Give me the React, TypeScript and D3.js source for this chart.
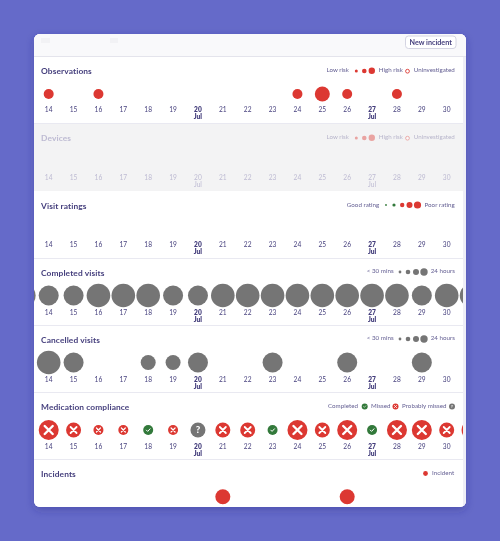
import React from "react";
import * as d3 from "d3";

const days = [14, 15, 16, 17, 18, 19, 20, 21, 22, 23, 24, 25, 26, 27, 28, 29, 30];
const boldDays = [20, 27];
const observations: [number, number][] = [[14, 1], [16, 1], [24, 1], [25, 2], [26, 1], [28, 1]];
const completedVisits: [number, number][] = [[13, 4], [14, 3], [15, 3], [16, 4], [17, 4], [18, 4], [19, 3], [20, 3], [21, 4], [22, 4], [23, 4], [24, 4], [25, 4], [26, 4], [27, 4], [28, 4], [29, 3], [30, 4], [31, 4]];
const cancelledVisits: [number, number][] = [[14, 4], [15, 3], [18, 2], [19, 2], [20, 3], [23, 3], [26, 3], [29, 3]];
const medication: [number, number, string][] = [
  [14, 3, "missed"], [15, 2, "missed"], [16, 1, "missed"], [17, 1, "missed"], [18, 1, "done"], [19, 1, "missed"],
  [20, 2, "unknown"], [21, 2, "missed"], [22, 2, "missed"], [23, 1, "done"], [24, 3, "missed"], [25, 2, "missed"],
  [26, 3, "missed"], [27, 1, "done"], [28, 3, "missed"], [29, 3, "missed"], [30, 2, "missed"], [31, 3, "missed"],
];
const incidents: [number, number][] = [[21, 2], [26, 2]];

const sectionTitles = ["Observations", "Devices", "Visit ratings", "Completed visits", "Cancelled visits", "Medication compliance", "Incidents"];
const sectionTops = [56, 124, 191, 259, 326, 393, 460];
const titleBaselines = [74.3, 141.2, 208.9, 275.6, 343.2, 410.2, 477];

const FONT = "Lato, 'Open Sans', sans-serif";
const INK = "#443e7c";
const RED = "#dc3730";
const GREY = "#757575";
const GREEN = "#33793a";

const x = d3.scaleLinear().domain([14, 30]).range([48.7, 446.7]);
const r = d3.scaleOrdinal<number, number>().domain([1, 2, 3, 4]).range([5, 7.5, 10, 11.8]);

function Ticks({ top, muted }: { top: number; muted?: boolean }) {
  const fill = muted ? "#bdbad2" : INK;
  return (
    <g fontFamily={FONT} fontSize={6.6} fill={fill} textAnchor="middle">
      {days.map((d) => {
        const bold = boldDays.includes(d);
        return (
          <g key={d} fontWeight={bold ? (muted ? 400 : 800) : 400}>
            <text x={x(d)} y={top + 55.7}>{d}</text>
            {bold && <text x={x(d)} y={top + 63}>Jul</text>}
          </g>
        );
      })}
    </g>
  );
}

function LegendText({ x: px, y, anchor = "start", children }: any) {
  return (
    <text x={px} y={y} textAnchor={anchor} fontFamily={FONT} fontSize={6.2} fill={INK} fillOpacity={0.85} letterSpacing={0.03}>
      {children}
    </text>
  );
}

function Icon({ cx, cy, radius, kind }: { cx: number; cy: number; radius: number; kind: string }) {
  const fill = kind === "missed" ? RED : kind === "done" ? GREEN : GREY;
  const a = radius * 0.4;
  const sw = radius * 0.24;
  return (
    <g>
      <circle cx={cx} cy={cy} r={radius} fill={fill} />
      {kind === "missed" && (
        <path d={`M${cx - a},${cy - a}L${cx + a},${cy + a}M${cx + a},${cy - a}L${cx - a},${cy + a}`} stroke="#fff" strokeWidth={sw} strokeLinecap="round" fill="none" />
      )}
      {kind === "done" && (
        <path d={`M${cx - radius * 0.36},${cy + radius * 0.02}L${cx - radius * 0.1},${cy + radius * 0.28}L${cx + radius * 0.38},${cy - radius * 0.24}`} stroke="#fff" strokeWidth={radius * 0.2} strokeLinecap="round" strokeLinejoin="round" fill="none" />
      )}
      {kind === "unknown" && (
        <text x={cx} y={cy + radius * 0.42} textAnchor="middle" fontFamily={FONT} fontWeight={900} fontSize={radius * 1.3} fill="#fff">?</text>
      )}
    </g>
  );
}

const cy = { obs: 94, completed: 295.5, cancelled: 362.5, med: 430, inc: 496.7 };

export default function App() {
  return (
    <svg width={500} height={541} viewBox="0 0 500 541" style={{ position: "absolute", left: 0, top: 0, display: "block" }}>
      <defs>
        <clipPath id="card"><rect x={34} y={34} width={432} height={473} rx={6} /></clipPath>
        <clipPath id="inner"><rect x={34} y={34} width={429} height={473} /></clipPath>
        <filter id="shadow" x="-10%" y="-10%" width="120%" height="120%">
          <feDropShadow dx={0} dy={3} stdDeviation={4} floodColor="#2c2f80" floodOpacity={0.35} />
        </filter>
        <filter id="soft" x="0" y="0" width="100%" height="100%" filterUnits="userSpaceOnUse" primitiveUnits="userSpaceOnUse">
          <feGaussianBlur stdDeviation={0.3} />
        </filter>
      </defs>
      <rect width={500} height={541} fill="#656ac9" />
      <rect x={34} y={34} width={432} height={473} rx={6} fill="#fff" filter="url(#shadow)" />
      <g filter="url(#soft)">
        <g clipPath="url(#card)">
          <rect x={34} y={34} width={432} height={473} fill="#fff" />
          <rect x={34} y={34} width={432} height={22} fill="#f9f9fb" />
          <rect x={463} y={56} width={3} height={451} fill="#eeeef6" />
          <rect x={34} y={124} width={429} height={67} fill="#f3f3f4" />
          <rect x={41} y={38} width={9} height={5} fill="#f2f2f5" />
          <rect x={110} y={38} width={8} height={5} fill="#f2f2f5" />
          {sectionTops.slice(1).map((t, i) => (
            <rect key={t} x={34} y={t - 1} width={429} height={1} fill={i === 1 ? "#f3f3f4" : "#e9e9f1"} />
          ))}
          <rect x={34} y={56} width={432} height={1} fill="#e4e4ec" />
          <g clipPath="url(#inner)">
            {observations.map(([d, l]) => <circle key={d} cx={x(d)} cy={cy.obs} r={r(l)} fill={RED} />)}
            {completedVisits.map(([d, l]) => <circle key={d} cx={x(d)} cy={cy.completed} r={r(l)} fill={GREY} />)}
            {cancelledVisits.map(([d, l]) => <circle key={d} cx={x(d)} cy={cy.cancelled} r={r(l)} fill={GREY} />)}
            {medication.map(([d, l, k]) => <Icon key={d} cx={x(d)} cy={cy.med} radius={r(l)} kind={k} />)}
            {incidents.map(([d, l]) => <circle key={d} cx={x(d)} cy={cy.inc} r={r(l)} fill={RED} />)}
          </g>
        </g>

        {sectionTitles.map((t, i) => (
          <text key={t} x={41} y={titleBaselines[i]} fontFamily={FONT} fontSize={8.4} fontWeight={700} fill={i === 1 ? "#bdbad2" : INK} letterSpacing={0.1}>{t}</text>
        ))}
        {sectionTops.slice(0, 6).map((t, i) => <Ticks key={t} top={t} muted={i === 1} />)}

        <rect x={405.5} y={36} width={50.5} height={12.5} rx={3} fill="#fff" stroke="#cfcfdf" strokeWidth={0.9} />
        <text x={430.7} y={45} textAnchor="middle" fontFamily={FONT} fontSize={7.2} fontWeight={700} fill={INK}>New incident</text>

        {[0, 1].map((k) => {
          const dy = k * 67;
          return (
            <g key={k} opacity={k ? 0.42 : 1}>
              <LegendText x={349} y={72.2 + dy} anchor="end">Low risk</LegendText>
              <circle cx={356.3} cy={71 + dy} r={1.5} fill={RED} />
              <circle cx={364.3} cy={71 + dy} r={2.3} fill={RED} />
              <circle cx={371.8} cy={70.7 + dy} r={3.2} fill={RED} />
              <LegendText x={378.7} y={72.2 + dy}>High risk</LegendText>
              <circle cx={407.5} cy={71.2 + dy} r={1.9} fill="#fff" stroke={RED} strokeWidth={0.9} />
              <LegendText x={413.7} y={72.2 + dy}>Uninvestigated</LegendText>
            </g>
          );
        })}

        <LegendText x={379.3} y={206.6} anchor="end">Good rating</LegendText>
        <circle cx={386} cy={205} r={0.9} fill={GREEN} />
        <circle cx={394} cy={205} r={1.6} fill={GREEN} />
        <circle cx={402.2} cy={205} r={2.2} fill={RED} />
        <circle cx={409.5} cy={205} r={3} fill={RED} />
        <circle cx={417.5} cy={205} r={3.6} fill={RED} />
        <LegendText x={424.5} y={206.6}>Poor rating</LegendText>

        {[0, 67].map((dy) => (
          <g key={dy}>
            <LegendText x={393.7} y={273.4 + dy} anchor="end">{"< 30 mins"}</LegendText>
            <circle cx={400} cy={272 + dy} r={1.4} fill={GREY} />
            <circle cx={408} cy={272 + dy} r={2.3} fill={GREY} />
            <circle cx={416} cy={272 + dy} r={3} fill={GREY} />
            <circle cx={424} cy={272 + dy} r={3.7} fill={GREY} />
            <LegendText x={430.7} y={273.4 + dy}>24 hours</LegendText>
          </g>
        ))}

        <LegendText x={358} y={407.8} anchor="end">Completed</LegendText>
        <Icon cx={364.7} cy={406.5} radius={3} kind="done" />
        <LegendText x={371} y={407.8}>Missed</LegendText>
        <Icon cx={395.5} cy={406.5} radius={3} kind="missed" />
        <LegendText x={402} y={407.8}>Probably missed</LegendText>
        <Icon cx={452} cy={406.5} radius={3} kind="unknown" />

        <circle cx={425.5} cy={473.5} r={2.4} fill={RED} />
        <LegendText x={432} y={474.7}>Incident</LegendText>
      </g>
    </svg>
  );
}
